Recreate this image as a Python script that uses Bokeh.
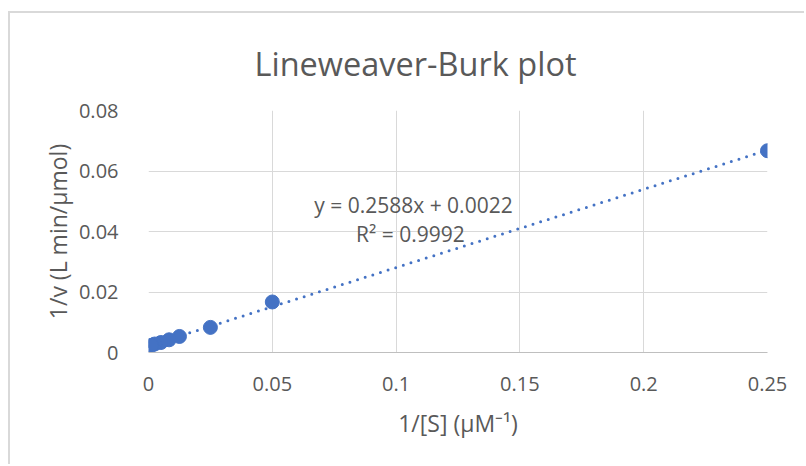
from bokeh.plotting import figure
from bokeh.models import Range1d, FixedTicker, CustomJSTickFormatter, Label
from bokeh.embed import file_html
from bokeh.resources import INLINE

# Data
inv_s = [0.25, 0.05, 0.025, 0.0125, 0.00833, 0.005, 0.0025, 0.00125]
inv_v = [0.0667, 0.0167, 0.0083, 0.0053, 0.0042, 0.0033, 0.0028, 0.0024]
slope = 0.2588
intercept = 0.0022
x_ticks = [0, 0.05, 0.1, 0.15, 0.2, 0.25]
y_ticks = [0, 0.02, 0.04, 0.06, 0.08]

title_text = "Lineweaver-Burk plot"
eq_text = "y = 0.2588x + 0.0022"
r2_text = "R² = 0.9992"

FONT = "Open Sans"
GREY = "#595959"
BLUE = "#4472C4"

p = figure(width=796, height=453, output_backend="svg", toolbar_location=None,
           x_range=Range1d(0, 0.25), y_range=Range1d(0, 0.08),
           min_border_left=138, min_border_right=39, min_border_top=97,
           min_border_bottom=114)
p.styles = {"border-left": "2px solid #d9d9d9", "border-top": "2px solid #d9d9d9",
            "margin-top": "11px", "margin-left": "8px"}
p.outline_line_color = None
p.background_fill_color = "white"
p.border_fill_color = "white"

p.title.text = title_text
p.title.align = "left"
p.title.offset = 106
p.title.standoff = 49
p.title.text_font = FONT
p.title.text_font_size = "32.5px"
p.title.text_font_style = "normal"
p.title.text_color = GREY

fmt = CustomJSTickFormatter(code="return String(Math.round(tick*10000)/10000);")
for ax, ticks in ((p.xaxis[0], x_ticks), (p.yaxis[0], y_ticks)):
    ax.ticker = FixedTicker(ticks=ticks)
    ax.formatter = fmt
    ax.major_tick_line_color = None
    ax.minor_tick_line_color = None
    ax.major_label_text_font = FONT
    ax.major_label_text_font_size = "20px"
    ax.major_label_text_color = GREY
    ax.axis_label_text_font = FONT
    ax.axis_label_text_font_size = "23px"
    ax.axis_label_text_font_style = "normal"
    ax.axis_label_text_color = GREY

p.xaxis.axis_line_color = "#bfbfbf"
p.xaxis.axis_line_width = 1
p.yaxis.axis_line_color = None
p.xaxis.major_label_standoff = 18
p.yaxis.major_label_standoff = 24
p.xaxis.axis_label = "1/[S] (μM⁻¹)"
p.yaxis.axis_label = "1/v (L min/μmol)"
p.xaxis.axis_label_standoff = 13
p.yaxis.axis_label_standoff = 2

p.xgrid.ticker = FixedTicker(ticks=x_ticks)
p.ygrid.ticker = FixedTicker(ticks=y_ticks)
p.grid.grid_line_color = "#d9d9d9"
p.grid.grid_line_width = 1

# Trendline
x0, x1 = min(inv_s), max(inv_s)
p.line([x0, x1], [slope * x0 + intercept, slope * x1 + intercept],
       line_color=BLUE, line_width=3, line_dash="0 8", line_cap="round")

p.scatter(inv_s, inv_v, size=14, fill_color=BLUE, line_color=BLUE)

p.add_layout(Label(x=0.107, y=0.0486, text=eq_text, text_align="center",
                   text_baseline="middle", text_font=FONT, text_font_size="21px",
                   text_color=GREY))
p.add_layout(Label(x=0.1058, y=0.0393, text=r2_text, text_align="center",
                   text_baseline="middle", text_font=FONT, text_font_size="21px",
                   text_color=GREY))

open("out.html", "w").write(file_html(p, INLINE))
